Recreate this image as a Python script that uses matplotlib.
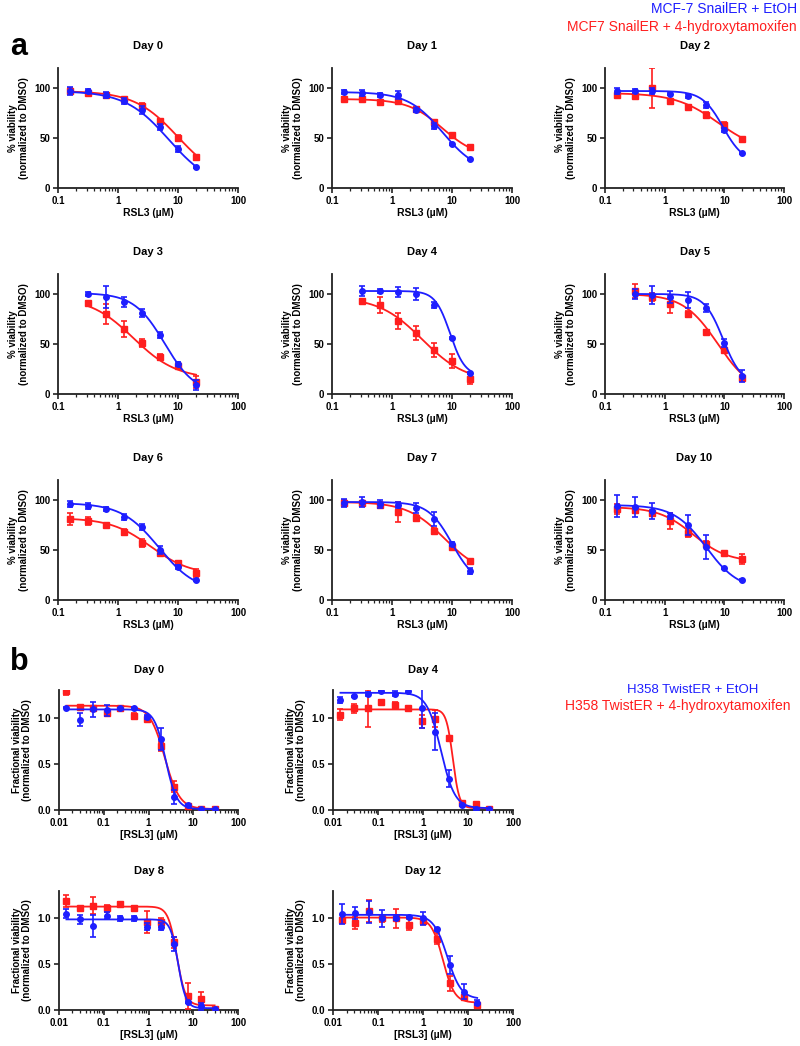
import numpy as np
import matplotlib
matplotlib.use('Agg')
import matplotlib.pyplot as plt
from matplotlib.ticker import LogLocator, NullFormatter, FixedLocator, FuncFormatter

plt.rcParams['font.family'] = ['Liberation Sans', 'DejaVu Sans']

BLUE = '#1e1eff'
RED = '#ff1e1e'

# ── panel a: MCF-7 SnailER, RSL3 dose (µM) ────────────────────────────────────
CONC_A8 = [0.156, 0.3125, 0.625, 1.25, 2.5, 5, 10, 20]
CONC_A7 = [0.3125, 0.625, 1.25, 2.5, 5, 10, 20]

A_DAYS = ['Day 0', 'Day 1', 'Day 2', 'Day 3', 'Day 4', 'Day 5', 'Day 6', 'Day 7', 'Day 10']
A_NPTS = [8, 8, 8, 7, 7, 7, 8, 8, 8]

A_BLUE = [
    [97, 97, 93, 87, 78, 61, 39, 21],
    [96, 95, 93, 93, 78, 62, 44, 29],
    [97, 97, 97, 94, 92, 83, 58, 35],
    [100, 97, 92, 81, 59, 30, 9],
    [103, 103, 102, 100, 89, 56, 21],
    [100, 99, 97, 94, 86, 51, 18],
    [96, 94, 91, 83, 73, 50, 33, 20],
    [97, 98, 96, 95, 92, 81, 56, 29],
    [94, 93, 89, 84, 75, 53, 32, 20],
]
A_BLUE_ERR = [
    [4, 2, 3, 3, 4, 3, 3, 1],
    [2, 3, 2, 4, 2, 3, 1, 1],
    [3, 2, 3, 1, 2, 3, 2, 1],
    [2, 11, 5, 4, 3, 2, 5],
    [5, 2, 5, 6, 3, 1, 1],
    [5, 9, 6, 8, 4, 4, 6],
    [3, 3, 2, 3, 3, 4, 2, 1],
    [4, 5, 4, 3, 5, 7, 2, 3],
    [11, 10, 8, 3, 10, 12, 1, 1],
]
A_RED = [
    [97, 95, 93, 89, 82, 67, 50, 31],
    [89, 89, 86, 87, 79, 66, 53, 41],
    [93, 92, 100, 87, 81, 73, 63, 49],
    [91, 80, 65, 51, 37, 28, 12],
    [93, 89, 73, 61, 44, 33, 15],
    [103, 97, 90, 80, 62, 44, 16],
    [81, 79, 75, 68, 57, 47, 37, 27],
    [97, 97, 95, 88, 82, 69, 53, 39],
    [91, 90, 87, 79, 67, 56, 47, 41],
]
A_RED_ERR = [
    [3, 2, 2, 2, 3, 2, 3, 2],
    [2, 2, 2, 1, 2, 2, 1, 1],
    [2, 2, 20, 2, 2, 3, 3, 2],
    [2, 10, 8, 4, 3, 2, 6],
    [2, 8, 8, 7, 7, 7, 5],
    [7, 4, 9, 3, 2, 2, 3],
    [6, 4, 1, 3, 4, 2, 2, 4],
    [3, 2, 3, 10, 3, 3, 2, 2],
    [5, 3, 3, 8, 4, 3, 1, 5],
]
# 4-parameter logistic fits (top, bottom, IC50, hill)
A_FIT_BLUE = [(97, 0, 7, 1.2), (96, 15, 7, 1.5), (97, 25, 9.5, 2.5),
              (101, 0, 6, 1.7), (103, 18, 9.3, 3.5), (100, 10, 9.5, 2.8),
              (97, 8, 4.8, 1.4), (98, 15, 10, 2.2), (95, 10, 5, 1.6)]
A_FIT_RED = [(97, 5, 10, 1.2), (89, 30, 7, 1.5), (95, 35, 8, 1.2),
             (97, 15, 1.8, 1.2), (97, 12, 3.2, 1.2), (100, 0, 7.8, 1.5),
             (82, 25, 3.5, 1.3), (98, 25, 7.5, 1.4), (93, 38, 3, 1.5)]

# ── panel b: H358 TwistER, [RSL3] (µM) ────────────────────────────────────────
CONC_B12 = [30 / 2**k for k in range(11, -1, -1)]
CONC_B11 = [16 / 2**k for k in range(10, -1, -1)]

B_DAYS = ['Day 0', 'Day 4', 'Day 8', 'Day 12']
B_BLUE = [
    [1.11, 0.98, 1.09, 1.08, 1.10, 1.11, 1.01, 0.77, 0.14, 0.05, 0.01, 0.01],
    [1.19, 1.23, 1.26, 1.29, 1.26, 1.29, 1.10, 0.85, 0.34, 0.05, 0.01, 0.01],
    [1.05, 0.99, 0.92, 1.03, 1.00, 1.00, 0.91, 0.91, 0.72, 0.09, 0.04, 0.01],
    [1.05, 1.06, 1.07, 1.00, 1.00, 1.02, 1.00, 0.88, 0.49, 0.20, 0.08],
]
B_BLUE_ERR = [
    [0.01, 0.07, 0.08, 0.06, 0.01, 0.01, 0.02, 0.12, 0.08, 0.01, 0.0, 0.0],
    [0.03, 0.01, 0.02, 0.01, 0.03, 0.02, 0.21, 0.20, 0.09, 0.01, 0.0, 0.0],
    [0.05, 0.05, 0.12, 0.04, 0.03, 0.03, 0.04, 0.04, 0.08, 0.01, 0.04, 0.0],
    [0.11, 0.07, 0.12, 0.09, 0.02, 0.01, 0.07, 0.02, 0.10, 0.08, 0.03],
]
B_RED = [
    [1.29, 1.12, 1.10, 1.05, 1.10, 1.02, 0.99, 0.69, 0.25, 0.04, 0.01, 0.01],
    [1.03, 1.10, 1.10, 1.17, 1.14, 1.10, 0.96, 0.99, 0.78, 0.08, 0.07, 0.01],
    [1.19, 1.11, 1.14, 1.11, 1.16, 1.11, 0.96, 0.96, 0.74, 0.15, 0.12, 0.01],
    [0.98, 0.95, 1.08, 1.00, 1.00, 0.93, 0.97, 0.78, 0.29, 0.14, 0.06],
]
B_RED_ERR = [
    [0.04, 0.01, 0.02, 0.03, 0.01, 0.03, 0.03, 0.05, 0.06, 0.01, 0.0, 0.0],
    [0.06, 0.05, 0.20, 0.02, 0.03, 0.01, 0.07, 0.09, 0.01, 0.01, 0.01, 0.0],
    [0.07, 0.02, 0.09, 0.04, 0.02, 0.03, 0.12, 0.04, 0.06, 0.14, 0.08, 0.0],
    [0.03, 0.07, 0.12, 0.04, 0.10, 0.06, 0.03, 0.06, 0.08, 0.02, 0.02],
]
B_FIT_BLUE = [(1.09, 0.01, 2.4, 3.5), (1.27, 0.02, 2.5, 2.8),
              (0.99, 0.02, 4.6, 5.0), (1.04, 0.12, 3.48, 2.83)]
B_FIT_RED = [(1.13, 0.01, 2.3, 2.6), (1.09, 0.02, 4.6, 6.0),
             (1.13, 0.05, 4.3, 4.5), (1.01, 0.08, 2.78, 3.38)]

W, H = 800, 1046
fig = plt.figure(figsize=(W / 100, H / 100), dpi=100)


def px_axes(x0, x1, y0, y1):
    return fig.add_axes([x0 / W, 1 - y1 / H, (x1 - x0) / W, (y1 - y0) / H])


def logistic(x, top, bottom, ic50, hill):
    return bottom + (top - bottom) / (1 + (x / ic50) ** hill)


def style(ax, xlim, ylim, yticks, yfmt, xticks, xlab, ylab):
    ax.set_xscale('log')
    ax.set_xlim(*xlim)
    ax.set_ylim(*ylim)
    for s in ['top', 'right']:
        ax.spines[s].set_visible(False)
    for s in ['left', 'bottom']:
        ax.spines[s].set_linewidth(1.3)
        ax.spines[s].set_color('#222222')
    ax.xaxis.set_major_locator(FixedLocator(xticks))
    ax.xaxis.set_major_formatter(FuncFormatter(lambda v, p: f'{v:g}'))
    ax.xaxis.set_minor_locator(LogLocator(base=10, subs=np.arange(2, 10)))
    ax.xaxis.set_minor_formatter(NullFormatter())
    ax.yaxis.set_major_locator(FixedLocator(yticks))
    ax.yaxis.set_major_formatter(FuncFormatter(yfmt))
    ax.tick_params(which='major', direction='out', length=3.5, width=1.2,
                   labelsize=7, pad=2, color='#222222')
    ax.tick_params(which='minor', direction='out', length=2, width=0.9, color='#222222')
    for lab in ax.get_xticklabels() + ax.get_yticklabels():
        lab.set_fontweight('bold')
    ax.set_xlabel(xlab, fontsize=7.5, fontweight='bold', labelpad=2)
    ax.set_ylabel(ylab, fontsize=7, fontweight='bold', labelpad=4, linespacing=1.1)


def draw(ax, conc, blue, berr, red, rerr, fb, fr):
    xs = np.geomspace(conc[0], conc[-1], 300)
    ax.plot(xs, logistic(xs, *fr), color=RED, lw=1.3, zorder=2)
    ax.errorbar(conc, red, yerr=rerr, fmt='s', color=RED, ms=4, elinewidth=1.2,
                capsize=2, capthick=1.2, zorder=3)
    ax.plot(xs, logistic(xs, *fb), color=BLUE, lw=1.3, zorder=4)
    ax.errorbar(conc, blue, yerr=berr, fmt='o', color=BLUE, ms=4, elinewidth=1.2,
                capsize=2, capthick=1.2, zorder=5)


# panel a grid
A_COLS = [(58, 238), (332, 512), (605, 784)]
A_ROWS = [(68, 188), (274, 394), (480, 600)]
for i, day in enumerate(A_DAYS):
    r, c = divmod(i, 3)
    ax = px_axes(A_COLS[c][0], A_COLS[c][1], A_ROWS[r][0], A_ROWS[r][1])
    conc = CONC_A8 if A_NPTS[i] == 8 else CONC_A7
    draw(ax, conc, A_BLUE[i], A_BLUE_ERR[i], A_RED[i], A_RED_ERR[i],
         A_FIT_BLUE[i], A_FIT_RED[i])
    style(ax, (0.1, 100), (0, 120), [0, 50, 100], lambda v, p: f'{v:.0f}',
          [0.1, 1, 10, 100], 'RSL3 (µM)', '% viability\n(normalized to DMSO)')
    ax.set_title(day, fontsize=8, fontweight='bold', pad=14)

# panel b grid
B_COLS = [(59, 238), (333, 513)]
B_ROWS = [(690, 810), (891, 1010)]
for i, day in enumerate(B_DAYS):
    r, c = divmod(i, 2)
    ax = px_axes(B_COLS[c][0], B_COLS[c][1], B_ROWS[r][0], B_ROWS[r][1])
    conc = CONC_B12 if len(B_BLUE[i]) == 12 else CONC_B11
    draw(ax, conc, B_BLUE[i], B_BLUE_ERR[i], B_RED[i], B_RED_ERR[i],
         B_FIT_BLUE[i], B_FIT_RED[i])
    style(ax, (0.01, 100), (0, 1.3), [0.0, 0.5, 1.0], lambda v, p: f'{v:.1f}',
          [0.01, 0.1, 1, 10, 100], '[RSL3] (µM)',
          'Fractional viability\n(normalized to DMSO)')
    ax.set_title(day, fontsize=8, fontweight='bold', pad=12)

# panel letters and legends
fig.text(10 / W, 1 - 47 / H, 'a', fontsize=22, fontweight='bold', va='center', ha='left')
fig.text(10 / W, 1 - 662 / H, 'b', fontsize=22, fontweight='bold', va='center', ha='left')
fig.text(797 / W, 1 - 9 / H, 'MCF-7 SnailER + EtOH', color=BLUE, fontsize=10,
         ha='right', va='center')
fig.text(797 / W, 1 - 27 / H, 'MCF7 SnailER + 4-hydroxytamoxifen', color=RED,
         fontsize=10, ha='right', va='center')
fig.text(693 / W, 1 - 690 / H, 'H358 TwistER + EtOH', color=BLUE, fontsize=9.5,
         ha='center', va='center')
fig.text(678 / W, 1 - 706 / H, 'H358 TwistER + 4-hydroxytamoxifen', color=RED,
         fontsize=10, ha='center', va='center')

fig.savefig('out.png', dpi=100)
